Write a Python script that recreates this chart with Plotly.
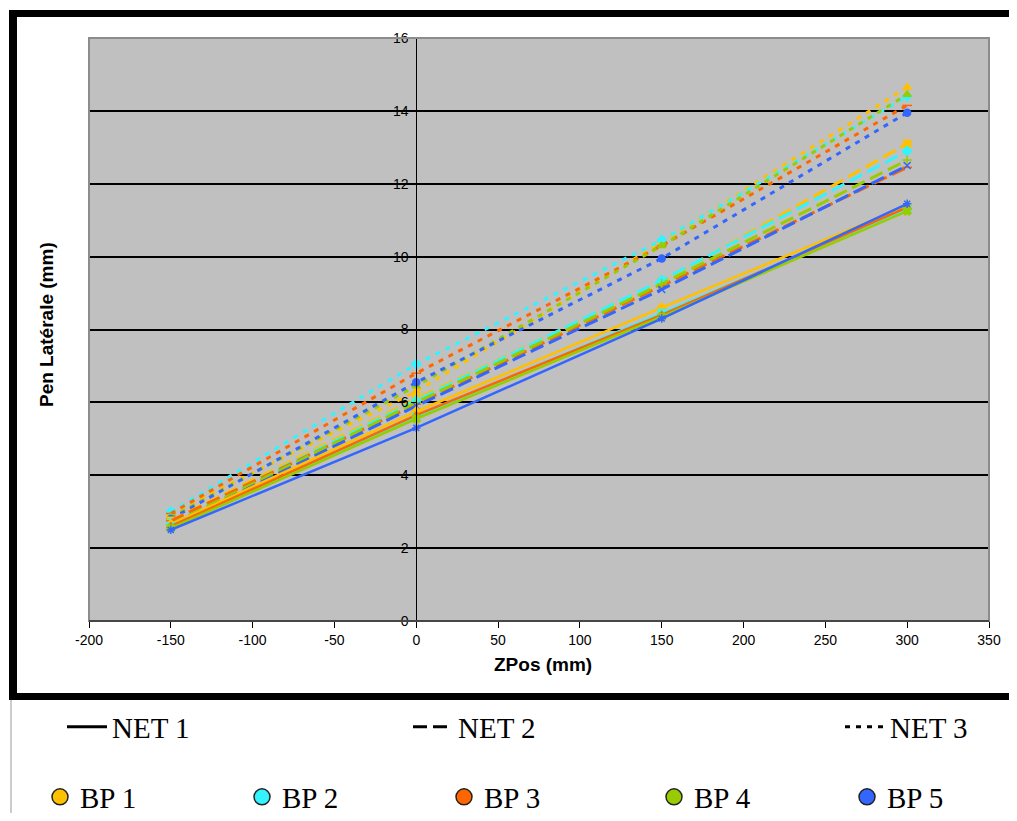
import plotly.graph_objects as go

# ---------------- data ----------------
zpos = [-150, 0, 150, 300]
bp_names = ["BP 1", "BP 2", "BP 3", "BP 4", "BP 5"]
bp_colors = ["#FFC000", "#33F3FF", "#FF6600", "#99CC00", "#3366FF"]
net_names = ["NET 1", "NET 2", "NET 3"]

net1 = [
    [2.65, 5.75, 8.60, 11.40],
    [2.60, 5.60, 8.45, 11.30],
    [2.60, 5.65, 8.40, 11.35],
    [2.55, 5.55, 8.35, 11.25],
    [2.50, 5.30, 8.30, 11.45],
]
net2 = [
    [2.75, 6.10, 9.30, 13.10],
    [2.70, 6.05, 9.35, 12.90],
    [2.75, 5.95, 9.20, 12.45],
    [2.65, 6.00, 9.25, 12.65],
    [2.60, 5.90, 9.10, 12.50],
]
net3 = [
    [2.95, 6.30, 10.40, 14.65],
    [3.00, 7.05, 10.45, 14.40],
    [2.95, 6.80, 10.30, 14.15],
    [2.85, 6.45, 10.30, 14.45],
    [2.80, 6.55, 9.95, 13.95],
]

y_ticks = [0, 2, 4, 6, 8, 10, 12, 14, 16]
x_ticks = [-200, -150, -100, -50, 0, 50, 100, 150, 200, 250, 300, 350]

# ---------------- figure geometry ----------------
# The page body has an 8px margin, so the figure is placed at (8, 8)
OX, OY = 8, 8
W, H = 1001, 805
L, T = 89 - OX, 38 - OY
R = W - (989 - OX)
B = H - (621 - OY)
pw, ph = W - L - R, H - T - B


def px(xp):
    """reference-screen x pixel -> paper coordinate"""
    return (xp - OX - L) / pw


def py(yp):
    """reference-screen y pixel -> paper coordinate"""
    return (H - B - (yp - OY)) / ph


fig = go.Figure()

net_data = [net1, net2, net3]
net_dash = ["solid", "14px,6px", "5px,6px"]
net_width = [2.5, 3, 3]
symbols = [
    ["diamond", "square", "triangle-up", "x", "asterisk-open"],
    ["square", "diamond", "line-ew-open", "cross-thin-open", "x-thin-open"],
    ["triangle-up", "diamond", "line-ew-open", "triangle-up", "circle"],
]

for n in [2, 1, 0]:
    for b in range(5):
        fig.add_trace(go.Scatter(
            x=zpos, y=net_data[n][b], mode="lines+markers",
            name=f"{net_names[n]} {bp_names[b]}",
            line=dict(color=bp_colors[b], width=net_width[n], dash=net_dash[n]),
            marker=dict(symbol=symbols[n][b], size=7, color=bp_colors[b],
                        line=dict(color=bp_colors[b], width=1.5)),
            showlegend=False,
        ))

# legend entries (one legend per entry to match the original layout)
legend_font = dict(family="Liberation Serif, Times New Roman, serif", size=29, color="black")
net_leg_pos = [(62, 727), (408, 727), (840, 727)]
bp_leg_pos = [(40, 797), (242, 797), (444, 797), (654, 797), (847, 797)]
leg_layout = {}
k = 1
for i, nm in enumerate(net_names):
    lname = "legend" if k == 1 else f"legend{k}"
    fig.add_trace(go.Scatter(
        x=[None], y=[None], mode="lines", name=nm, legend=lname,
        line=dict(color="black", width=3, dash=net_dash[i]),
    ))
    leg_layout[lname] = dict(x=px(net_leg_pos[i][0]), y=py(net_leg_pos[i][1]),
                             xanchor="left", yanchor="middle",
                             bgcolor="rgba(0,0,0,0)", font=legend_font,
                             orientation="h", itemwidth=40)
    k += 1
for i, nm in enumerate(bp_names):
    lname = f"legend{k}"
    fig.add_trace(go.Scatter(
        x=[None], y=[None], mode="markers", name=nm, legend=lname,
        marker=dict(symbol="circle", size=16, color=bp_colors[i],
                    line=dict(color="#222222", width=1.5)),
    ))
    leg_layout[lname] = dict(x=px(bp_leg_pos[i][0]), y=py(bp_leg_pos[i][1]),
                             xanchor="left", yanchor="middle",
                             bgcolor="rgba(0,0,0,0)", font=legend_font,
                             orientation="h")
    k += 1

tick_font = dict(family="Liberation Sans, Arial, sans-serif", size=14, color="black")

fig.update_layout(
    width=W, height=H, autosize=False,
    margin=dict(l=L, r=R, t=T, b=B, pad=0, autoexpand=False),
    paper_bgcolor="white",
    plot_bgcolor="#C0C0C0",
    xaxis=dict(
        range=[-200, 350], tickvals=x_ticks, ticktext=[str(v) for v in x_ticks],
        showgrid=False, zeroline=False,
        showline=True, linecolor="black", linewidth=1,
        ticks="outside", ticklen=6, tickcolor="black", tickwidth=1,
        tickfont=tick_font,
    ),
    yaxis=dict(
        range=[0, 16], tickvals=y_ticks, ticktext=[str(v) for v in y_ticks],
        anchor="free", position=200 / 550,
        showgrid=True, gridcolor="black", gridwidth=1.5,
        zeroline=False,
        showline=True, linecolor="black", linewidth=1,
        ticks="outside", ticklen=5, tickcolor="black", tickwidth=1,
        tickfont=tick_font,
    ),
    showlegend=True,
    **leg_layout,
)

# plot-area border
fig.add_shape(type="rect", xref="paper", yref="paper", x0=0, x1=1, y0=0, y1=1,
              line=dict(color="#8C8C8C", width=2), layer="above")
fig.add_shape(type="line", xref="paper", yref="paper", x0=0, x1=1, y0=0, y1=0,
              line=dict(color="black", width=1), layer="above")

# outer black frame
frame = dict(color="black", width=0)
fig.add_shape(type="rect", xref="paper", yref="paper",
              x0=px(9), x1=px(1030), y0=py(17), y1=py(10),
              fillcolor="black", line=frame)
fig.add_shape(type="rect", xref="paper", yref="paper",
              x0=px(9), x1=px(17), y0=py(700), y1=py(10),
              fillcolor="black", line=frame)
fig.add_shape(type="rect", xref="paper", yref="paper",
              x0=px(9), x1=px(1030), y0=py(700), y1=py(693),
              fillcolor="black", line=frame)
fig.add_shape(type="line", xref="paper", yref="paper",
              x0=px(11), x1=px(11), y0=py(830), y1=py(700),
              line=dict(color="#999999", width=1))

# axis titles
title_font = dict(family="Liberation Sans, Arial, sans-serif", size=19, color="black")
fig.add_annotation(text="<b>ZPos (mm)</b>", xref="paper", yref="paper",
                   x=px(543), y=py(664), showarrow=False, font=title_font,
                   xanchor="center", yanchor="middle")
fig.add_annotation(text="<b>Pen Latérale (mm)</b>", xref="paper", yref="paper",
                   x=px(46), y=py(325), showarrow=False, font=title_font,
                   textangle=-90, xanchor="center", yanchor="middle")

fig.write_html("out.html")
